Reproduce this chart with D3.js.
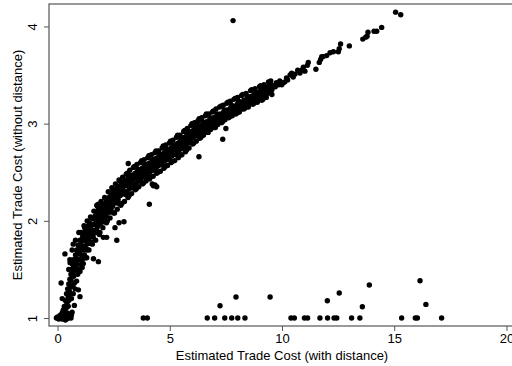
<!DOCTYPE html>
<html><head><meta charset="utf-8">
<script src="https://cdnjs.cloudflare.com/ajax/libs/d3/7.8.5/d3.min.js"></script>
<style>
html,body{margin:0;padding:0;background:#fff;overflow:hidden;}
text{font-family:"Liberation Sans",Arial,Helvetica,sans-serif;}
</style></head>
<body><svg id="c" width="512" height="366"></svg>
<script>
const xTicks = [0, 5, 10, 15, 20];
const yTicks = [1, 2, 3, 4];
const xTitle = "Estimated Trade Cost (with distance)";
const yTitle = "Estimated Trade Cost (without distance)";

// cluster near origin
const clusterPts = [[-0.05,1.0],[0.0,1.01],[0.05,0.99],[0.1,1.0],[0.15,1.02],[0.2,0.99],[0.25,1.01],[0.3,1.0],[0.35,1.02],[0.4,0.99],[0.45,1.01],[0.5,1.0],[0.55,1.02],[0.6,1.0],[0.12,1.03],[0.28,1.04],[0.42,1.05],[0.5,1.04],[0.35,0.98],[0.62,1.03],[0.2,1.05],[0.65,1.06],[0.3,1.07]];
// steep rise
const risePts = [[0.25,1.08],[0.3,1.12],[0.35,1.18],[0.38,1.1],[0.4,1.25],[0.42,1.15],[0.45,1.3],[0.48,1.22],[0.5,1.35],[0.52,1.28],[0.55,1.4],[0.57,1.32],[0.6,1.45],[0.6,1.38],[0.63,1.5],[0.65,1.42],[0.67,1.55],[0.7,1.47],[0.7,1.6],[0.73,1.52],[0.75,1.36],[0.77,1.58],[0.8,1.65],[0.8,1.5],[0.83,1.62],[0.85,1.7],[0.87,1.55],[0.9,1.68],[0.92,1.75],[0.95,1.6],[0.97,1.72],[1.0,1.66],[1.0,1.8],[1.03,1.7],[1.05,1.78],[1.08,1.62],[1.1,1.74],[1.12,1.84],[1.15,1.7],[1.18,1.8],[1.2,1.88],[0.58,1.25],[0.68,1.33],[0.45,1.05],[0.72,1.43],[0.9,1.45],
  [0.85,1.38],[0.95,1.5],[1.05,1.55],[1.1,1.6],[1.2,1.65],[1.3,1.7],[1.45,1.78],[0.5,1.5],[0.55,1.6],[0.65,1.7],[0.8,1.8],[0.95,1.88],[0.78,1.3],[0.62,1.2],[1.0,1.48],[1.15,1.56],[1.3,1.62],[0.5,1.18],[0.7,1.25]];
const bandB = [[1.22,1.72],[1.25,1.82],[1.28,1.9],[1.3,1.76],[1.33,1.85],[1.35,1.93],[1.38,1.8],[1.4,1.88],[1.42,1.98],[1.45,1.84],[1.48,1.92],[1.5,1.78],[1.52,1.88],[1.55,1.96],[1.58,1.86],[1.6,2.02],[1.62,1.9],[1.65,1.96],[1.68,2.05],[1.7,1.88],[1.72,1.98],[1.75,2.06],[1.78,1.94],[1.8,2.02],[1.82,2.1],[1.85,1.96],[1.88,2.04],[1.9,2.12],[1.93,1.98],[1.95,2.06],[1.98,2.14],[2.0,2.0],[2.02,2.08],[2.05,2.16],[2.08,2.02],[2.1,2.1],[2.13,2.18],[2.15,2.05],[2.18,2.12],[2.2,2.2],[2.23,2.08],[2.25,2.15],[2.28,2.22],[2.3,2.1],[2.33,2.18],[2.35,2.25],[2.38,2.12],[2.4,2.2],[2.43,2.27],[2.45,2.15],[2.48,2.22],[2.5,2.3],[2.53,2.18],[2.55,2.25],[2.58,2.32],[2.6,2.2],[2.63,2.27],[2.66,2.34],[2.7,2.22],[2.73,2.3],[2.76,2.36],[2.8,2.26],[2.83,2.32],[2.86,2.38],[2.9,2.28],[2.93,2.35],[2.96,2.4],[3.0,2.3],[1.82,2.17],[1.75,2.16]];
const bandC = [[3.03,2.36],[3.06,2.42],[3.1,2.3],[3.13,2.38],[3.16,2.44],[3.2,2.33],[3.23,2.4],[3.26,2.46],[3.3,2.35],[3.33,2.42],[3.36,2.47],[3.4,2.37],[3.43,2.44],[3.46,2.49],[3.5,2.39],[3.53,2.45],[3.56,2.51],[3.6,2.41],[3.63,2.47],[3.66,2.52],[3.7,2.43],[3.73,2.49],[3.76,2.54],[3.8,2.45],[3.83,2.5],[3.86,2.56],[3.9,2.46],[3.93,2.52],[3.96,2.57],[4.0,2.48],[4.03,2.54],[4.06,2.59],[4.1,2.5],[4.13,2.56],[4.16,2.6],[4.2,2.52],[4.23,2.57],[4.26,2.62],[4.3,2.53],[4.33,2.59],[4.36,2.64],[4.4,2.55],[4.43,2.6],[4.46,2.65],[4.5,2.57],[4.53,2.62],[4.56,2.67],[4.6,2.58],[4.63,2.64],[4.66,2.68],[4.7,2.6],[4.73,2.65],[4.76,2.7],[4.8,2.62],[4.83,2.67],[4.86,2.72],[4.9,2.64],[4.93,2.69],[4.96,2.73],[5.0,2.65],[5.03,2.7],[5.06,2.75],[5.1,2.67],[5.13,2.72],[5.16,2.77],[5.2,2.69],[5.23,2.74],[5.26,2.78],[5.3,2.7],[5.33,2.75],[5.36,2.8],[5.4,2.72],[5.43,2.77],[5.46,2.82],[5.5,2.74],[5.53,2.79],[5.56,2.84],[5.6,2.76],[5.63,2.81],[5.66,2.86],[5.7,2.78],[5.73,2.83],[5.76,2.88],[5.8,2.8],[5.83,2.85],[5.86,2.9],[5.9,2.82],[5.93,2.87],[5.96,2.92]];
const bandD = [[6.0,2.85],[6.04,2.9],[6.08,2.94],[6.12,2.87],[6.16,2.92],[6.2,2.96],[6.25,2.89],[6.3,2.94],[6.35,2.98],[6.4,2.91],[6.45,2.96],[6.5,3.0],[6.55,2.93],[6.6,2.98],[6.65,3.02],[6.7,2.95],[6.75,3.0],[6.8,3.04],[6.85,2.97],[6.9,3.02],[6.95,3.06],[7.0,2.99],[7.05,3.04],[7.1,3.08],[7.15,3.01],[7.2,3.06],[7.25,3.1],[7.3,3.03],[7.35,3.08],[7.4,3.12],[7.45,3.05],[7.5,3.1],[7.55,3.14],[7.6,3.07],[7.65,3.12],[7.7,3.16],[7.75,3.09],[7.8,3.14],[7.85,3.18],[7.9,3.11],[7.95,3.16],[8.0,3.2],[8.05,3.13],[8.1,3.18],[8.15,3.22],[8.2,3.15],[8.25,3.2],[8.3,3.24],[8.35,3.17],[8.4,3.22],[8.45,3.26],[8.5,3.19],[8.55,3.24],[8.6,3.28],[8.65,3.21],[8.7,3.26],[8.75,3.3],[8.8,3.24],[8.85,3.28],[8.9,3.32],[8.95,3.26],[9.0,3.3],[9.05,3.34],[9.1,3.28],[9.15,3.32],[9.2,3.36],[9.25,3.3],[9.3,3.35],[9.35,3.38],[9.4,3.33],[9.45,3.37],[9.5,3.4],[9.55,3.35],[9.6,3.39],[9.7,3.38],[9.75,3.42],[9.85,3.4]];
// band edges (upper and lower spread)
const bandEdge = [[1.05,1.88],[1.1,1.52],[1.18,1.95],[1.25,1.62],[1.32,2.0],[1.4,1.7],[1.47,2.04],[1.55,1.76],[1.62,2.1],[1.7,1.8],[1.78,2.15],[1.86,1.86],[1.94,2.2],[2.02,1.93],[2.1,2.24],[2.18,1.98],[2.26,2.3],[2.34,2.03],[2.42,2.34],[2.5,2.08],[2.58,2.38],[2.66,2.12],[2.74,2.42],[2.82,2.16],[2.9,2.45],[2.98,2.2],[3.06,2.48],[3.14,2.24],[3.22,2.52],[3.3,2.28],[3.38,2.55],[3.46,2.32],[3.54,2.58],[3.62,2.35],[3.7,2.6],[3.78,2.38],[3.86,2.63],[3.94,2.41],[4.02,2.65],[4.1,2.43],[4.18,2.68],[4.26,2.46],[4.34,2.7],[4.42,2.49],[4.5,2.72],[4.58,2.51],[4.66,2.75],[4.74,2.54],[4.82,2.78],[4.9,2.57],[4.98,2.8],[5.06,2.6],[5.14,2.83],[5.22,2.62],[5.3,2.86],[5.38,2.65],[5.46,2.88],[5.54,2.68],[5.62,2.92],[5.7,2.71],[5.78,2.95],[5.86,2.75],[5.94,2.98],[6.02,2.79],[6.1,3.01],[6.18,2.82],[6.26,3.03],[6.34,2.85],[6.42,3.06],[6.5,2.88],[6.58,3.08],[6.66,2.91],[6.74,3.1],[6.82,2.94],[6.9,3.12],[6.98,2.96],[7.06,3.15],[7.14,2.99],[7.22,3.17],[7.3,3.01],[7.38,3.19],[7.46,3.04],[7.54,3.21],[7.62,3.06],[7.7,3.23],[7.78,3.08],[7.86,3.25],[7.94,3.1],[8.02,3.27],[8.1,3.12],[8.2,3.29],[8.3,3.15],[8.4,3.31],[8.5,3.17],[8.6,3.34],[8.7,3.2],[8.8,3.36],[8.9,3.22],[9.0,3.38],[9.1,3.24],[9.2,3.4],[9.3,3.27],[9.4,3.43],[9.55,3.3]];
// irregular in-between points
const bandFill = [[1.13,1.63],[1.21,1.93],[1.29,1.71],[1.37,1.95],[1.44,1.77],[1.51,2.03],[1.59,1.83],[1.66,2.02],[1.74,1.9],[1.81,2.11],[1.89,1.88],[1.97,2.13],[2.05,1.99],[2.14,2.23],[2.22,2.0],[2.3,2.24],[2.38,2.09],[2.46,2.33],[2.54,2.08],[2.62,2.31],[2.7,2.18],[2.78,2.41],[2.87,2.18],[2.95,2.4],[3.02,2.27],[3.11,2.49],[3.19,2.26],[3.27,2.47],[3.35,2.34],[3.43,2.56],[3.51,2.33],[3.59,2.53],[3.67,2.41],[3.75,2.62],[3.83,2.39],[3.91,2.58],[3.99,2.46],[4.07,2.67],[4.15,2.45],[4.23,2.63],[4.31,2.52],[4.39,2.72],[4.47,2.5],[4.55,2.69],[4.63,2.58],[4.71,2.77],[4.79,2.56],[4.87,2.74],[4.95,2.63],[5.03,2.82],[5.11,2.61],[5.19,2.78],[5.27,2.68],[5.35,2.88],[5.43,2.67],[5.51,2.84],[5.59,2.75],[5.67,2.93],[5.75,2.73],[5.83,2.91],[5.91,2.81],[5.99,3.0],[6.07,2.8],[6.15,2.97],[6.23,2.88],[6.31,3.05],[6.39,2.86],[6.47,3.02],[6.55,2.94],[6.63,3.1],[6.71,2.91],[6.79,3.06],[6.87,2.99],[6.95,3.13],[7.03,2.96],[7.11,3.1],[7.19,3.03],[7.27,3.18],[7.35,3.02],[7.43,3.14],[7.51,3.08],[7.59,3.22],[7.67,3.07],[7.75,3.19],[7.83,3.13],[7.91,3.26],[7.99,3.11],[8.07,3.23],[8.15,3.17],[8.25,3.3],[8.35,3.16],[8.45,3.28],[8.55,3.22],[8.65,3.35],[8.75,3.21],[8.85,3.32],[8.95,3.27],[9.05,3.39],[9.15,3.25],[9.25,3.36],[9.35,3.31],[9.5,3.44]];
const bandE = [[9.99,3.40],[10.06,3.42],[10.13,3.43],[10.36,3.50],[10.43,3.52],[10.58,3.51],[10.8,3.52],[11.02,3.54],[10.88,3.55],[10.95,3.58],[11.13,3.6],[11.17,3.63],[11.51,3.56],[11.66,3.63],[11.72,3.66],[11.77,3.69],[11.84,3.69],[11.99,3.70],[12.14,3.73],[12.29,3.74],[12.51,3.74],[12.55,3.77],[12.61,3.82],[13.0,3.80],[13.6,3.87],[13.73,3.89],[13.79,3.90],[13.83,3.94],[14.1,3.95],[14.22,3.95],[14.44,3.99],[15.06,4.147],[15.29,4.12],[10.2,3.47],[10.25,3.45],[9.9,3.44],[10.5,3.48],[10.7,3.55]];
const outlierPts = [[6.3,2.66],[7.36,2.84],[7.5,2.95],[4.27,2.36],[4.42,2.35],[4.09,2.17],[4.34,2.37],[4.22,2.38],[2.96,1.99],[2.74,1.98],[2.56,1.93],[2.64,1.80],[2.19,1.83],[2.04,1.83],[1.6,1.61],[1.82,1.58],[0.93,1.29],[1.0,1.22],[0.75,1.13],[0.48,1.12],[3.15,2.59],[6.2,3.01],[0.7,1.76],[0.33,1.66],[0.16,1.36],[0.21,1.2],[0.56,1.57],[7.82,4.06]];
const floorPts = [[3.82,1.0],[4.0,1.0],[6.67,1.0],[7.0,1.0],[7.45,1.0],[7.76,1.0],[8.03,1.0],[8.35,1.0],[10.4,1.0],[10.55,1.0],[11.0,1.0],[11.14,1.0],[11.69,1.0],[12.03,1.0],[12.32,1.0],[12.44,1.0],[13.1,1.0],[13.47,1.0],[15.33,1.0],[15.94,1.0],[16.03,1.0],[17.11,1.0],[7.24,1.127],[7.95,1.216],[9.47,1.216],[12.02,1.178],[12.55,1.257],[13.58,1.116],[13.89,1.34],[16.15,1.384],[16.41,1.14]];

const allPts = [].concat(clusterPts, risePts, bandB, bandC, bandD, bandEdge, bandFill, bandE, outlierPts, floorPts);

const svg = d3.select("#c");
const L = 49, R = 515, T = 4, B = 326;
const x = d3.scaleLinear().domain([-0.38, 20.38]).range([L, R]);
const y = d3.scaleLinear().domain([0.918, 4.231]).range([B, T]);

// frame
svg.append("rect").attr("x", L).attr("y", T).attr("width", R - L).attr("height", B - T)
  .attr("fill", "none").attr("stroke", "#555").attr("stroke-width", 1.2);

// points
svg.append("g").selectAll("circle").data(allPts).join("circle")
  .attr("cx", d => x(d[0])).attr("cy", d => y(d[1])).attr("r", 2.7).attr("fill", "#000");

// x axis
const xa = svg.append("g").attr("transform", `translate(0,${B})`)
  .call(d3.axisBottom(x).tickValues(xTicks).tickSize(5).tickPadding(3).tickFormat(d3.format("d")));
xa.select(".domain").remove();
xa.selectAll("line").attr("stroke", "#555");
xa.selectAll("text").attr("font-size", 13).attr("fill", "#000");

// y axis
const ya = svg.append("g").attr("transform", `translate(${L},0)`)
  .call(d3.axisLeft(y).tickValues(yTicks).tickSize(5).tickFormat(d3.format("d")));
ya.select(".domain").remove();
ya.selectAll("line").attr("stroke", "#555");
ya.selectAll("text").attr("font-size", 13).attr("fill", "#000")
  .attr("x", null).attr("dy", null)
  .attr("text-anchor", "middle")
  .attr("transform", "translate(-12,0) rotate(-90)")
  .attr("y", 0);

// titles
svg.append("text").attr("x", (L + R) / 2).attr("y", 360).attr("text-anchor", "middle")
  .attr("font-size", 13).text(xTitle);
svg.append("text").attr("transform", `translate(22,${(T + B) / 2}) rotate(-90)`)
  .attr("text-anchor", "middle").attr("font-size", 13).text(yTitle);
</script></body></html>
